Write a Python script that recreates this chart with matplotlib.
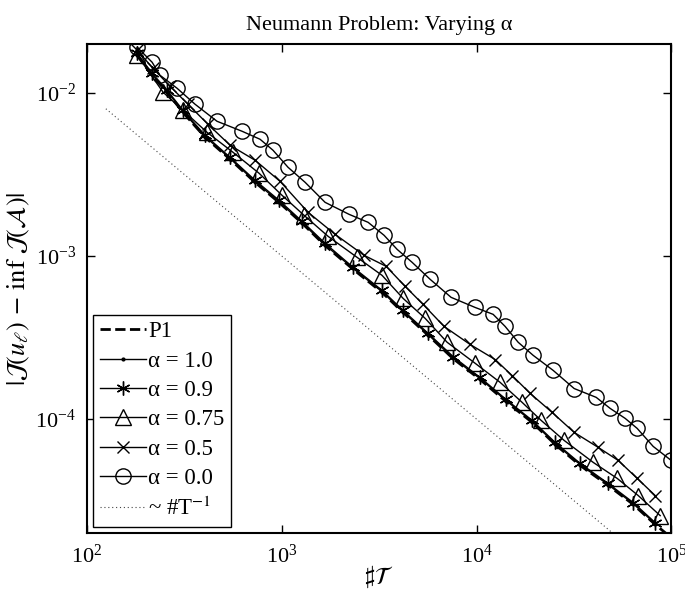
"""Neumann problem convergence plot: error vs number of triangles for varying alpha."""

import matplotlib

matplotlib.use("Agg")
import matplotlib.pyplot as plt

# number of triangles (x) and error (y) for each run
x_p1 = [181, 216, 258, 311, 404, 543, 730, 969, 1272, 1669, 2324, 3275, 4198,
        5641, 7583, 10430, 14190, 19300, 25330, 34050, 47420, 63740, 82640, 97000]
y_p1 = [0.0170, 0.0128, 0.0101, 0.0076, 0.00535, 0.00392, 0.00283, 0.00213,
        0.00159, 0.00116, 0.00083, 0.000598, 0.000451, 0.000327, 0.000235,
        0.000175, 0.000128, 0.0000955, 0.0000700, 0.0000520, 0.0000392,
        0.0000300, 0.0000226, 0.0000193]

x_a10 = [181, 216, 258, 311, 404, 543, 730, 969, 1272, 1669, 2324, 3275, 4198,
         5641, 7583, 10430, 14190, 19300, 25330, 34050, 47420, 63740, 82640]
y_a10 = [0.0172, 0.0130, 0.0102, 0.0077, 0.00540, 0.00396, 0.00286, 0.00215,
         0.00160, 0.00117, 0.00084, 0.000604, 0.000455, 0.000330, 0.000237,
         0.000177, 0.000130, 0.0000965, 0.0000708, 0.0000526, 0.0000396,
         0.0000303, 0.0000228]

x_a09 = [181, 216, 258, 311, 404, 543, 730, 969, 1272, 1669, 2324, 3275, 4198,
         5641, 7583, 10430, 14190, 19300, 25330, 34050, 47420, 63740, 82640]
y_a09 = [0.01752, 0.01321, 0.01039, 0.00783, 0.00550, 0.00403, 0.002913,
         0.002196, 0.001633, 0.001197, 0.000853, 0.000616, 0.000464, 0.000336,
         0.000242, 0.000180, 0.000132, 0.0000982, 0.0000720, 0.0000535,
         0.0000403, 0.0000308, 0.0000232]

x_a075 = [181, 246, 311, 413, 562, 765, 1003, 1302, 1729, 2436, 3274, 4198,
          5445, 7063, 9836, 13220, 17150, 21470, 28180, 39710, 52740, 67610, 87700]
y_a075 = [0.01703, 0.01010, 0.00783, 0.005741, 0.004327, 0.003217, 0.002358,
          0.001777, 0.001321, 0.000982, 0.000761, 0.000550, 0.000415, 0.000296,
          0.000220, 0.000168, 0.0001266, 0.0000982, 0.0000740, 0.0000543,
          0.0000433, 0.0000340, 0.0000256]

x_a05 = [181, 218, 267, 330, 418, 543, 730, 980, 1365, 1878, 2647, 3434, 4298,
         5318, 6817, 9271, 12460, 15230, 18850, 24450, 31710, 42130, 53380,
         66830, 82640]
y_a05 = [0.01828, 0.01417, 0.01099, 0.008524, 0.006427, 0.004776, 0.003865,
         0.002872, 0.001854, 0.001359, 0.001010, 0.000865, 0.000652, 0.000505,
         0.000370, 0.000287, 0.000232, 0.000185, 0.0001438, 0.0001099,
         0.0000829, 0.0000671, 0.0000558, 0.0000433, 0.0000340]

x_a00 = [181, 216, 237, 290, 359, 465, 626, 774, 902, 1077, 1318, 1669, 2216,
         2775, 3353, 3911, 4670, 5777, 7405, 9835, 12170, 14030, 16360, 19540,
         24740, 31720, 41150, 48560, 57990, 66820, 80730, 99890]
y_a00 = [0.01907, 0.01543, 0.01284, 0.01069, 0.008524, 0.006706, 0.005821,
         0.005200, 0.004452, 0.003501, 0.002832, 0.002135, 0.001802, 0.001610,
         0.001340, 0.001099, 0.000915, 0.000720, 0.000558, 0.000484, 0.000439,
         0.000370, 0.000296, 0.000246, 0.000199, 0.000154, 0.000136,
         0.0001163, 0.0001010, 0.0000877, 0.0000680, 0.0000558]

# reference slope ~ 1/#T
x_ref = [125, 50000]
y_ref = [1 / 125, 1 / 50000]

plt.rcParams["font.family"] = ["Liberation Serif", "DejaVu Serif"]
plt.rcParams["mathtext.fontset"] = "stix"

fig = plt.figure(figsize=(6.85, 5.93), dpi=100)
ax = fig.add_axes([0.127, 0.101, 0.853, 0.825])

line_kw = {"color": "black", "linewidth": 1.0, "markerfacecolor": "none",
           "markeredgecolor": "black", "markeredgewidth": 1.0}

ax.plot(x_p1, y_p1, linestyle="--", color="black", linewidth=2.0, label="P1")
ax.plot(x_a10, y_a10, marker=".", markersize=4, markerfacecolor="black",
        **{k: v for k, v in line_kw.items() if k != "markerfacecolor"},
        label="α = 1.0")
ax.plot(x_a09, y_a09, marker=(6, 2, 0), markersize=10, label="α = 0.9", **line_kw)
ax.plot(x_a075, y_a075, marker="^", markersize=11, label="α = 0.75", **line_kw)
ax.plot(x_a05, y_a05, marker="x", markersize=9, label="α = 0.5", **line_kw)
ax.plot(x_a00, y_a00, marker="o", markersize=11, label="α = 0.0", **line_kw)
ax.plot(x_ref, y_ref, linestyle=(0, (1, 2.5)), color="#444444", linewidth=0.8,
        label=r"~ #T$^{-1}$")

ax.set_xscale("log")
ax.set_yscale("log")
ax.set_xlim(1e2, 1e5)
ax.set_ylim(2e-5, 2e-2)
ax.set_xticks([1e2, 1e3, 1e4, 1e5])
ax.set_yticks([1e-4, 1e-3, 1e-2])
ax.minorticks_off()
ax.tick_params(which="both", direction="in", top=True, right=True, length=6,
               width=1.0, labelsize=16, pad=8)
for spine in ax.spines.values():
    spine.set_linewidth(1.5)

ax.set_title("Neumann Problem: Varying α", fontsize=16, pad=10)
ax.set_xlabel(r"$\sharp\mathcal{T}$", fontsize=17, labelpad=-3)
ax.set_ylabel(r"$|\mathcal{J}(u_\ell)\,-\,\inf\,\mathcal{J}(\mathcal{A})|$",
              fontsize=19, labelpad=2)

legend = ax.legend(loc="lower left", bbox_to_anchor=(0.01, 0.012),
                   borderaxespad=0, fontsize=16.5, handlelength=2.0,
                   handletextpad=0.1, labelspacing=0.36, borderpad=0.3,
                   fancybox=False, framealpha=1.0, edgecolor="black")
legend.get_frame().set_linewidth(1.0)

fig.savefig("out.png", dpi=100)
